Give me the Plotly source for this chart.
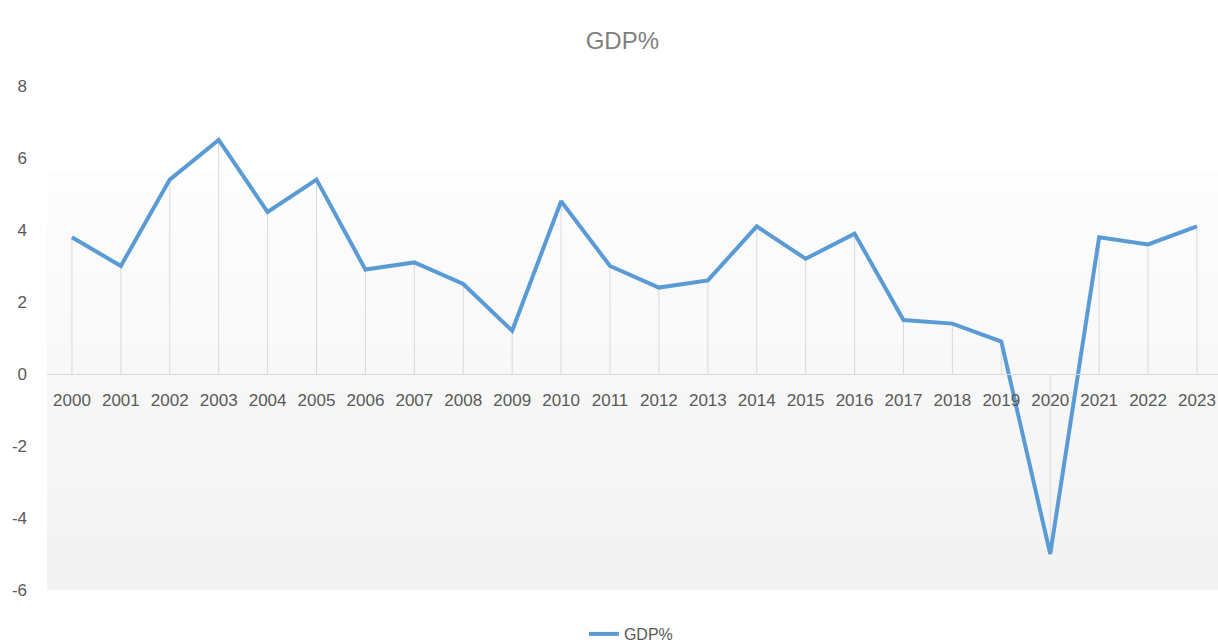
import plotly.graph_objects as go

# Annual GDP growth (%)
years = [str(y) for y in range(2000, 2024)]
gdp = [3.8, 3.0, 5.4, 6.5, 4.5, 5.4, 2.9, 3.1, 2.5, 1.2,
       4.8, 3.0, 2.4, 2.6, 4.1, 3.2, 3.9, 1.5, 1.4, 0.9,
       -5.0, 3.8, 3.6, 4.1]
y_ticks = [-6, -4, -2, 0, 2, 4, 6, 8]
y_tick_text = [str(v) for v in y_ticks]

FONT = "Liberation Sans"
Y_MIN, Y_MAX = -6, 8

fig = go.Figure()

# drop lines from each point to the zero axis
dx, dy = [], []
for yr, v in zip(years, gdp):
    dx += [yr, yr, None]
    dy += [0, v, None]
fig.add_trace(go.Scatter(x=dx, y=dy, mode="lines",
                         line=dict(color="#d9d9d9", width=1),
                         hoverinfo="skip", showlegend=False))

fig.add_trace(go.Scatter(x=years, y=gdp, mode="lines", name="GDP%",
                         line=dict(color="#5b9bd5", width=4)))

# plot-area background: white at the top fading to light grey at the bottom
shapes = []
top_white = 5.6
n = 60
for i in range(n):
    y0 = top_white - (top_white - Y_MIN) * i / n
    y1 = top_white - (top_white - Y_MIN) * (i + 1) / n
    t = (i + 0.5) / n
    c = int(round(253 - (253 - 242) * t))
    shapes.append(dict(type="rect", xref="paper", yref="y", x0=0, x1=1,
                       y0=y1, y1=y0, line=dict(width=0),
                       fillcolor=f"rgb({c},{c},{c})", layer="below"))

fig.update_layout(
    width=1218, height=643,
    margin=dict(l=47, r=0, t=86, b=53, autoexpand=False),
    paper_bgcolor="white", plot_bgcolor="white",
    shapes=shapes,
    title=dict(text="GDP%", x=0.511, xref="container", xanchor="center",
               y=0.937, yref="container", yanchor="middle",
               font=dict(family=FONT, size=24, color="#808080")),
    xaxis=dict(type="category", range=[-0.51, 23.43],
               anchor="free", position=(0 - Y_MIN) / (Y_MAX - Y_MIN),
               showgrid=False, zeroline=False, automargin=False,
               showline=True, linecolor="#d9d9d9", linewidth=1,
               ticks="", ticklabelstandoff=11,
               tickfont=dict(family=FONT, size=17, color="#595959")),
    yaxis=dict(range=[Y_MIN, Y_MAX], tickvals=y_ticks, ticktext=y_tick_text,
               showgrid=False, zeroline=False, showline=False,
               automargin=False, ticks="", ticklabelstandoff=19,
               tickfont=dict(family=FONT, size=17, color="#595959")),
    legend=dict(orientation="h", x=0.518, xref="container", xanchor="center",
                y=0.014, yref="container", yanchor="middle",
                font=dict(family=FONT, size=16, color="#595959")),
    showlegend=True,
)

fig.write_html("out.html")
